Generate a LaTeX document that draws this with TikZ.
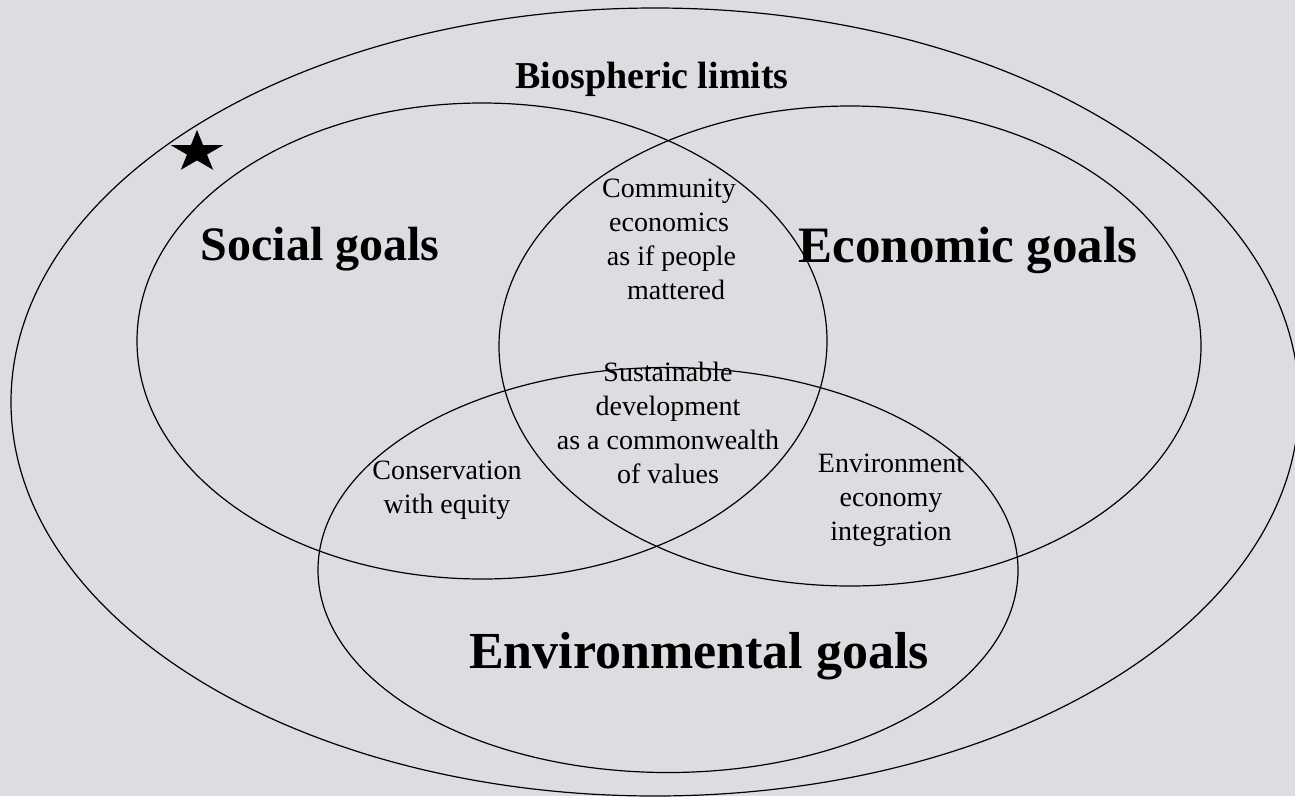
\documentclass[tikz,border=0pt]{standalone}
\usepackage{fontspec}
\setmainfont{Liberation Serif}
\usetikzlibrary{shapes.geometric,positioning}
\definecolor{paper}{HTML}{DCDDE0}
\tikzset{x=1pt,y=-1pt,
  ring/.style={ellipse,draw,line width=1.2pt,inner sep=0pt},
  goal/.style={anchor=base,font=\fontsize{#1}{#1}\selectfont\bfseries},
  note/.style={align=center,font=\fontsize{28}{34}\selectfont}}

\begin{document}
\begin{tikzpicture}
  \fill[paper] (0,0) rectangle (1295,796);
  \useasboundingbox (0,0) rectangle (1295,796);
  % the four circles
  \node[ring,minimum width=1288pt,minimum height=788pt] (limits) at (655,402) {};
  \node[ring,minimum width=690pt,minimum height=476pt] (social) at (482,341) {};
  \node[ring,minimum width=702pt,minimum height=480pt] (econ) at (850,346) {};
  \node[ring,minimum width=700pt,minimum height=405pt] (envir) at (668,570) {};
  \begin{scope}[shift={(197,152)},xscale=1.25]
    \node[star,star points=5,star point ratio=2.618,fill,inner sep=0pt,
          minimum size=44pt,transform shape] (mark) {};
  \end{scope}
  % labels
  \node[goal=38] (bio) at (652,88) {Biospheric limits};
  \node[goal=48] (socl) at (320,260) {Social goals};
  \node[goal=51] (ecol) at (968,262) {Economic goals};
  \node[goal=52] (envl) at (699,668) {Environmental goals};
  \node[note] (comm) at (669,239)
    {Community\\economics\\\hspace*{5pt}as if people\\\hspace*{14pt}mattered};
  \node[note] (sust) at (668,423) {Sustainable\\development\\as a commonwealth\\of values};
  \node[note] (cons) at (447,490) {Conservation\\with equity};
  \node[note] (integ) at (891,500) {Environment\\economy\\integration};
\end{tikzpicture}
\end{document}
